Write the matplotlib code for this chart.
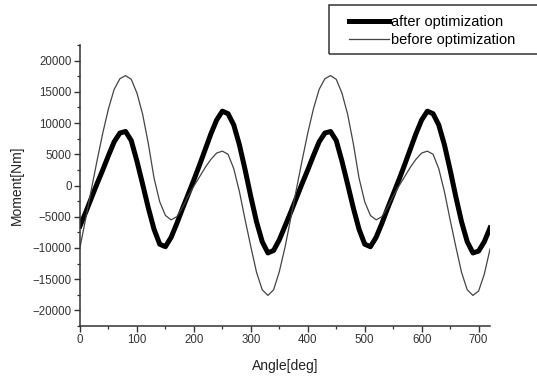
import matplotlib
matplotlib.use("Agg")
import matplotlib.pyplot as plt
from matplotlib.patches import Rectangle
from matplotlib.ticker import MultipleLocator

plt.rcParams['font.family'] = ['Liberation Sans', 'DejaVu Sans']

# angle in degrees, 10 deg steps over two revolutions
angle = list(range(0, 730, 10))

# moment after optimization [Nm] (thick line)
after_opt = [
    -6500, -4300, -2000, 300, 2500, 4800, 7000, 8400, 8650, 7200,
    3900, 200, -3600, -7000, -9400, -9800, -8300, -6100, -3700, -1400,
    900, 3300, 5800, 8300, 10500, 11900, 11500, 9700, 6500, 2500,
    -1800, -5800, -9000, -10800, -10400, -8700,
    -6500, -4300, -2000, 300, 2500, 4800, 7000, 8400, 8650, 7200,
    3900, 200, -3600, -7000, -9400, -9800, -8300, -6100, -3700, -1400,
    900, 3300, 5800, 8300, 10500, 11900, 11500, 9700, 6500, 2500,
    -1800, -5800, -9000, -10800, -10500, -9000, -6800,
]

# moment before optimization [Nm] (thin line)
before_opt = [
    -9900, -5300, -600, 4000, 8400, 12300, 15400, 17100, 17600, 17000,
    14800, 11400, 6700, 1200, -2600, -4800, -5500, -5000, -3500, -1700,
    -100, 1400, 2900, 4200, 5200, 5500, 5000, 2700, -1000, -5500,
    -9800, -13900, -16700, -17600, -16700, -13800,
    -9900, -5300, -600, 4000, 8400, 12300, 15400, 17100, 17600, 17000,
    14800, 11400, 6700, 1200, -2600, -4800, -5500, -5000, -3500, -1700,
    -100, 1400, 2900, 4200, 5200, 5500, 5000, 2700, -1000, -5500,
    -9800, -13900, -16700, -17600, -16900, -14200, -10200,
]

x_ticks = [0, 100, 200, 300, 400, 500, 600, 700]
y_ticks = [-20000, -15000, -10000, -5000, 0, 5000, 10000, 15000, 20000]

W, H = 537, 376
fig = plt.figure(figsize=(W / 100, H / 100), dpi=100)
ax = fig.add_axes([80 / W, 1 - 326 / H, 410 / W, 281 / H])

ax.plot(angle, after_opt, color='black', lw=3.6, label='after optimization',
        solid_joinstyle='round')
ax.plot(angle, before_opt, color='#444444', lw=0.9, label='before optimization',
        solid_joinstyle='round')

ax.set_xlim(0, 720)
ax.set_ylim(-22500, 22500)
ax.set_xticks(x_ticks)
ax.set_yticks(y_ticks)
ax.xaxis.set_minor_locator(MultipleLocator(50))
ax.yaxis.set_minor_locator(MultipleLocator(2500))

for side in ['top', 'right']:
    ax.spines[side].set_visible(False)
for side in ['left', 'bottom']:
    ax.spines[side].set_linewidth(1.1)
    ax.spines[side].set_color('#333333')

ax.tick_params(which='major', direction='out', length=4.5, width=1.0,
               color='#333333', labelsize=8.3, labelcolor='#333333', pad=1.5)
ax.tick_params(which='minor', direction='out', length=2.2, width=0.9,
               color='#333333')

ax.set_xlabel('Angle[deg]', fontsize=10, color='#222222', labelpad=9)
ax.set_ylabel('Moment[Nm]', fontsize=10, color='#222222', labelpad=6)

# legend: entries without frame, box drawn separately so it runs off the edge
leg = fig.legend(loc='upper left', bbox_to_anchor=(342 / W, 1 - 8 / H),
                 frameon=False, fontsize=10.5, handlelength=2.75,
                 handletextpad=0.08, borderpad=0.5, labelspacing=0.25,
                 borderaxespad=0)
fig.patches.append(Rectangle((329 / W, 1 - 54 / H), 240 / W, 49 / H,
                             transform=fig.transFigure, fill=False,
                             edgecolor='#333333', lw=1.1))

fig.savefig('out.png', dpi=100)
